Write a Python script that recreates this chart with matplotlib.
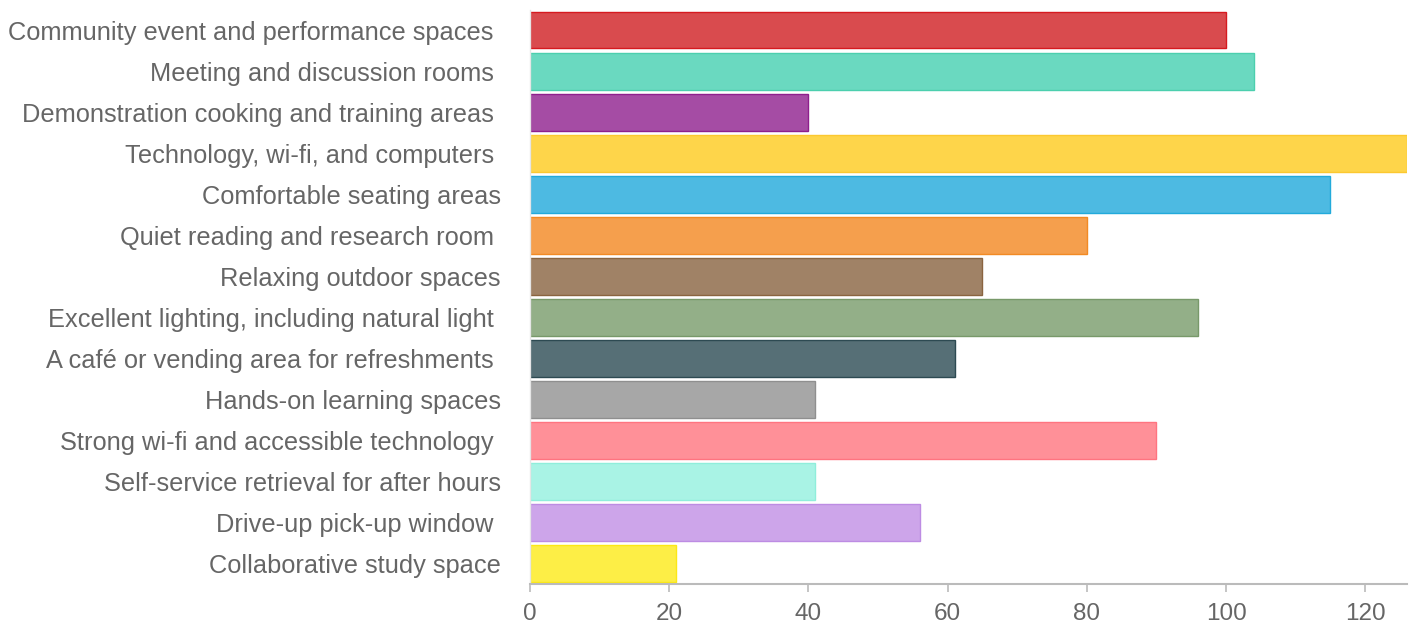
import matplotlib
matplotlib.use("Agg")
import matplotlib.pyplot as plt

categories = [
    "Community event and performance spaces ",
    "Meeting and discussion rooms ",
    "Demonstration cooking and training areas ",
    "Technology, wi-fi, and computers ",
    "Comfortable seating areas",
    "Quiet reading and research room ",
    "Relaxing outdoor spaces",
    "Excellent lighting, including natural light ",
    "A café or vending area for refreshments ",
    "Hands-on learning spaces",
    "Strong wi-fi and accessible technology ",
    "Self-service retrieval for after hours",
    "Drive-up pick-up window ",
    "Collaborative study space",
]
values = [100, 104, 40, 126, 115, 80, 65, 96, 61, 41, 90, 41, 56, 21]
fill_colors = ["#d94b4e", "#6ad9c0", "#a54ca4", "#fed54a", "#4dbae2", "#f59f4d", "#a08266",
               "#93af88", "#566f76", "#a7a7a7", "#ff9098", "#a9f3e5", "#cda5ea", "#fdee46"]
edge_colors = ["#d61a20", "#4ccfae", "#8e1f8d", "#fcc830", "#22aadb", "#f28a24", "#8a6440",
               "#78996a", "#2d4a52", "#8f8f8f", "#ff7480", "#90eedb", "#bd8ce3", "#fce815"]
x_ticks = [0, 20, 40, 60, 80, 100, 120]

plt.rcParams['font.family'] = ['Liberation Sans', 'DejaVu Sans']

fig = plt.figure(figsize=(14.13, 6.28), dpi=100)
ax = fig.add_axes([530/1413, 44/628, 877/1413, (584-9.5)/628])

ypos = list(range(len(categories)))
ax.barh(ypos, values, height=0.9, color=fill_colors, edgecolor=edge_colors, linewidth=1.0)
ax.set_ylim(len(categories) - 0.5, -0.5)
ax.set_xlim(0, 126)
ax.set_yticks(ypos)
ax.set_yticklabels(categories)
ax.set_xticks(x_ticks)
ax.set_xticklabels([str(t) for t in x_ticks])

for s in ["top", "right"]:
    ax.spines[s].set_visible(False)
ax.spines["left"].set_color("#e6e6e6")
ax.spines["left"].set_linewidth(1.0)
ax.spines["bottom"].set_color("#bbbbbb")
ax.spines["bottom"].set_linewidth(1.5)

ax.tick_params(axis="y", length=0, pad=21, labelsize=18.3, labelcolor="#666666")
ax.tick_params(axis="x", length=6, width=1.2, color="#bbbbbb", pad=8,
               labelsize=17.5, labelcolor="#666666")
for lbl in ax.get_yticklabels():
    lbl.set_y(lbl.get_position()[1])

fig.savefig("out.png", dpi=100)
